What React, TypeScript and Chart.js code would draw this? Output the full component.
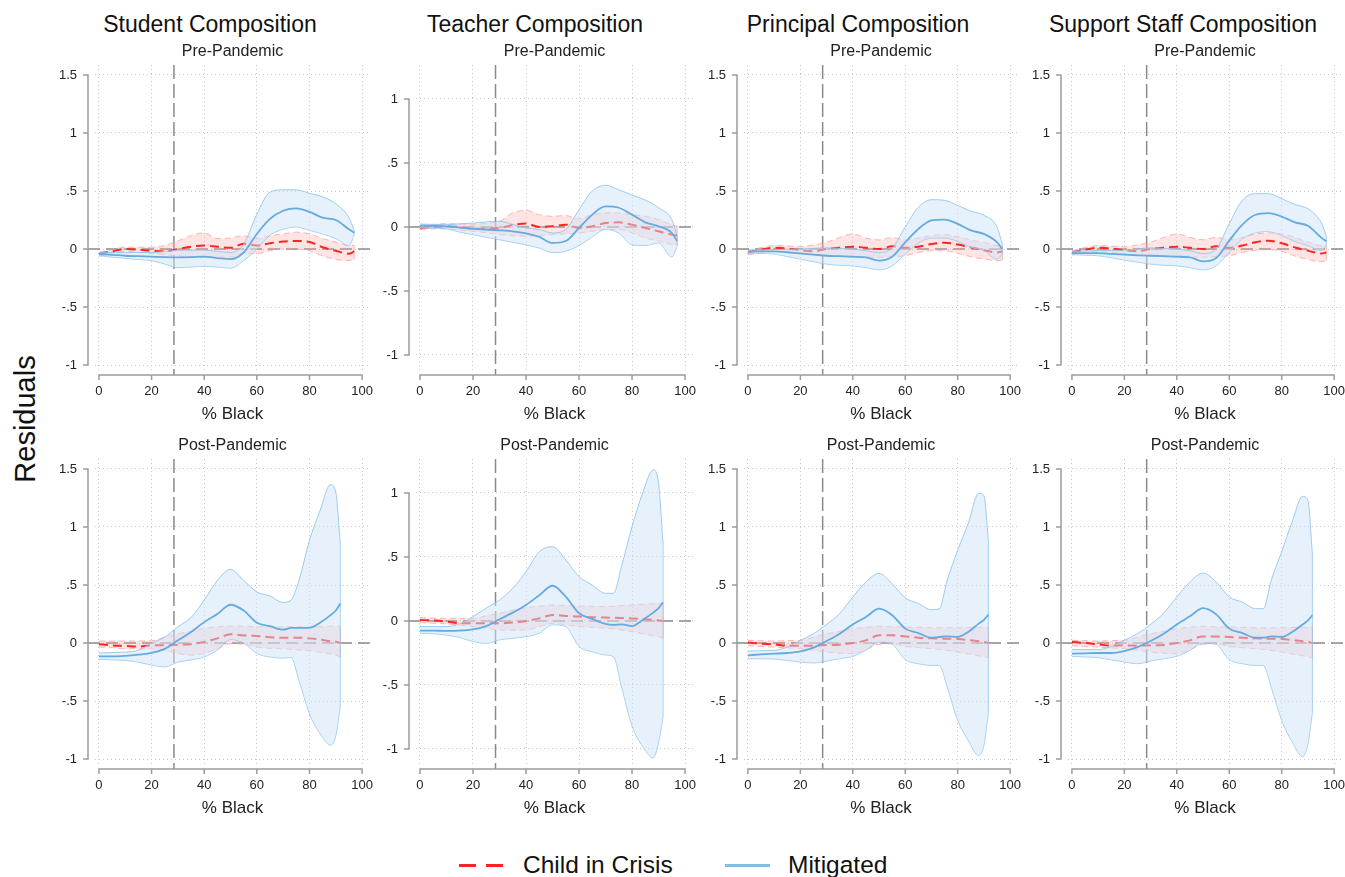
import React, { useEffect, useRef } from "react";
import { Chart, registerables } from "chart.js";

Chart.register(...registerables);

const FONT = '"Liberation Sans", Arial, Helvetica, sans-serif';
Chart.defaults.font.family = FONT;
Chart.defaults.color = "#222";

// ---------- categories / ticks ----------
const COLUMN_TITLES = ["Student Composition", "Teacher Composition", "Principal Composition", "Support Staff Composition"];
const ROW_TITLES = ["Pre-Pandemic", "Post-Pandemic"];
const X_TITLE = "% Black";
const Y_TITLE = "Residuals";
const SERIES_LABELS = ["Child in Crisis", "Mitigated"];
const X_TICKS = [0, 20, 40, 60, 80, 100];
const Y_TICKS_WIDE = [-1, -0.5, 0, 0.5, 1, 1.5];
const Y_TICKS_NARROW = [-1, -0.5, 0, 0.5, 1];
const CUTOFF = 28.5;

const PRE_X = [0, 5, 10, 15, 20, 25, 30, 35, 40, 45, 50, 55, 60, 65, 70, 75, 80, 85, 90, 95, 97];
const POST_X = [0, 5, 10, 15, 20, 25, 30, 35, 40, 45, 50, 55, 60, 65, 70, 73, 76, 80, 84, 88, 90, 91.7];

// ---------- Student ----------
const STUDENT_PRE_MIT = [-0.043, -0.05, -0.058, -0.062, -0.066, -0.07, -0.072, -0.07, -0.066, -0.078, -0.087, -0.03, 0.13, 0.26, 0.33, 0.35, 0.32, 0.27, 0.25, 0.17, 0.14];
const STUDENT_PRE_MIT_HI = [-0.03, -0.03, -0.03, -0.03, -0.03, -0.02, -0.01, -0.01, -0.01, -0.02, -0.03, 0.04, 0.3, 0.49, 0.51, 0.51, 0.48, 0.45, 0.39, 0.27, 0.16];
const STUDENT_PRE_MIT_LO = [-0.058, -0.07, -0.08, -0.09, -0.1, -0.13, -0.16, -0.155, -0.15, -0.155, -0.165, -0.1, 0, 0.12, 0.17, 0.19, 0.16, 0.13, 0.09, 0.03, 0.12];
const STUDENT_PRE_CRI = [-0.04, -0.02, 0, -0.005, -0.015, -0.02, 0, 0.02, 0.03, 0.02, 0.01, 0.045, 0.03, 0.05, 0.065, 0.07, 0.06, 0.015, -0.015, -0.04, -0.02];
const STUDENT_PRE_CRI_HI = [-0.03, -0.005, 0.015, 0.015, 0.015, 0.03, 0.07, 0.115, 0.14, 0.09, 0.095, 0.115, 0.09, 0.115, 0.13, 0.145, 0.13, 0.09, 0.06, 0.03, 0.03];
const STUDENT_PRE_CRI_LO = [-0.06, -0.04, -0.02, -0.03, -0.04, -0.05, -0.06, -0.065, -0.07, -0.07, -0.07, -0.04, -0.04, -0.015, 0, 0, -0.015, -0.06, -0.09, -0.1, -0.09];

const STUDENT_POST_MIT = [-0.115, -0.115, -0.11, -0.1, -0.086, -0.05, 0.023, 0.095, 0.18, 0.25, 0.33, 0.28, 0.175, 0.145, 0.115, 0.13, 0.13, 0.13, 0.175, 0.24, 0.28, 0.34];
const STUDENT_POST_MIT_HI = [-0.086, -0.082, -0.078, -0.063, 0, 0.05, 0.14, 0.22, 0.37, 0.54, 0.635, 0.54, 0.44, 0.405, 0.35, 0.37, 0.54, 0.885, 1.14, 1.365, 1.3, 0.86];
const STUDENT_POST_MIT_LO = [-0.14, -0.145, -0.15, -0.165, -0.19, -0.205, -0.165, -0.145, -0.12, -0.06, 0.03, 0, -0.09, -0.12, -0.13, -0.125, -0.32, -0.61, -0.78, -0.88, -0.8, -0.55];
const STUDENT_POST_CRI = [-0.01, -0.02, -0.025, -0.03, -0.02, -0.02, -0.015, -0.01, 0.01, 0.04, 0.075, 0.065, 0.06, 0.05, 0.045, 0.045, 0.045, 0.04, 0.03, 0.015, 0.01, 0];
const STUDENT_POST_CRI_HI = [0.017, 0.017, 0.017, 0.018, 0.02, 0.05, 0.08, 0.1, 0.125, 0.14, 0.145, 0.145, 0.14, 0.14, 0.14, 0.14, 0.14, 0.14, 0.14, 0.145, 0.145, 0.145];
const STUDENT_POST_CRI_LO = [-0.035, -0.04, -0.05, -0.05, -0.05, -0.065, -0.09, -0.105, -0.09, -0.05, -0.005, -0.01, -0.035, -0.045, -0.05, -0.055, -0.06, -0.065, -0.08, -0.095, -0.105, -0.12];

// ---------- Teacher ----------
const TEACHER_PRE_MIT = [0.01, 0.008, 0.005, -0.005, -0.015, -0.02, -0.026, -0.034, -0.05, -0.078, -0.125, -0.11, -0.008, 0.096, 0.16, 0.15, 0.096, 0.036, 0.005, -0.047, -0.11];
const TEACHER_PRE_MIT_HI = [0.023, 0.02, 0.018, 0.025, 0.03, 0.04, 0.044, 0.02, -0.008, -0.02, -0.047, -0.02, 0.135, 0.28, 0.325, 0.29, 0.25, 0.21, 0.15, 0.057, -0.07];
const TEACHER_PRE_MIT_LO = [-0.008, -0.01, -0.015, -0.04, -0.06, -0.08, -0.1, -0.12, -0.14, -0.165, -0.2, -0.19, -0.145, -0.078, -0.02, -0.047, -0.14, -0.145, -0.125, -0.235, -0.15];
const TEACHER_PRE_CRI = [-0.008, 0, 0.005, 0, -0.015, -0.012, -0.008, 0.016, 0.026, 0, 0.005, 0.018, -0.008, 0.005, 0.03, 0.036, 0.018, -0.008, -0.034, -0.06, -0.068];
const TEACHER_PRE_CRI_HI = [0.01, 0.02, 0.026, 0.022, 0.018, 0.03, 0.044, 0.11, 0.13, 0.096, 0.083, 0.089, 0.063, 0.096, 0.11, 0.11, 0.096, 0.083, 0.057, 0.018, 0.005];
const TEACHER_PRE_CRI_LO = [-0.02, -0.015, -0.015, -0.025, -0.034, -0.045, -0.06, -0.068, -0.073, -0.068, -0.06, -0.055, -0.047, -0.034, -0.02, -0.02, -0.047, -0.086, -0.11, -0.138, -0.145];

const TEACHER_POST_MIT = [-0.075, -0.075, -0.078, -0.075, -0.065, -0.04, 0.013, 0.065, 0.125, 0.2, 0.275, 0.19, 0.06, 0.016, -0.023, -0.03, -0.026, -0.04, 0.008, 0.065, 0.1, 0.146];
const TEACHER_POST_MIT_HI = [-0.044, -0.044, -0.044, -0.023, 0.034, 0.1, 0.164, 0.255, 0.385, 0.54, 0.58, 0.477, 0.346, 0.28, 0.216, 0.216, 0.424, 0.737, 1, 1.18, 1.075, 0.607];
const TEACHER_POST_MIT_LO = [-0.096, -0.1, -0.11, -0.13, -0.16, -0.175, -0.148, -0.135, -0.122, -0.096, -0.03, -0.044, -0.2, -0.24, -0.265, -0.28, -0.51, -0.82, -0.98, -1.07, -0.95, -0.75];
const TEACHER_POST_CRI = [0.008, 0.003, -0.005, -0.018, -0.018, -0.018, -0.018, -0.013, 0, 0.02, 0.047, 0.039, 0.034, 0.029, 0.026, 0.025, 0.023, 0.02, 0.015, 0.008, 0.003, 0];
const TEACHER_POST_CRI_HI = [0.026, 0.022, 0.02, 0.02, 0.02, 0.04, 0.06, 0.085, 0.104, 0.115, 0.125, 0.12, 0.117, 0.114, 0.112, 0.115, 0.12, 0.125, 0.13, 0.135, 0.137, 0.138];
const TEACHER_POST_CRI_LO = [-0.013, -0.018, -0.023, -0.033, -0.044, -0.057, -0.07, -0.072, -0.07, -0.044, -0.018, -0.03, -0.044, -0.05, -0.057, -0.062, -0.07, -0.083, -0.1, -0.115, -0.122, -0.135];

// ---------- Principal ----------
const PRINCIPAL_PRE_MIT = [-0.02, -0.02, -0.02, -0.028, -0.038, -0.048, -0.058, -0.062, -0.066, -0.072, -0.1, -0.066, 0.058, 0.173, 0.246, 0.254, 0.217, 0.16, 0.13, 0.058, 0];
const PRINCIPAL_PRE_MIT_HI = [-0.01, -0.008, -0.005, -0.002, 0, 0.005, 0.01, 0.005, 0, -0.015, -0.03, 0.01, 0.19, 0.36, 0.425, 0.42, 0.375, 0.327, 0.29, 0.19, 0.043];
const PRINCIPAL_PRE_MIT_LO = [-0.035, -0.038, -0.043, -0.065, -0.087, -0.11, -0.13, -0.14, -0.145, -0.16, -0.18, -0.145, -0.043, 0.05, 0.095, 0.095, 0.066, 0.014, -0.014, -0.087, -0.043];
const PRINCIPAL_PRE_CRI = [-0.03, -0.005, 0.01, 0.005, -0.01, -0.02, 0, 0.012, 0.02, 0.01, 0, 0.023, 0.01, 0.02, 0.043, 0.055, 0.038, 0.014, -0.01, -0.03, -0.02];
const PRINCIPAL_PRE_CRI_HI = [-0.015, 0.012, 0.03, 0.028, 0.02, 0.035, 0.058, 0.1, 0.13, 0.095, 0.078, 0.1, 0.078, 0.095, 0.116, 0.124, 0.107, 0.078, 0.058, 0.03, 0.03];
const PRINCIPAL_PRE_CRI_LO = [-0.05, -0.035, -0.02, -0.03, -0.043, -0.05, -0.058, -0.065, -0.072, -0.072, -0.072, -0.065, -0.058, -0.03, -0.015, -0.015, -0.038, -0.066, -0.087, -0.1, -0.095];

const PRINCIPAL_POST_MIT = [-0.106, -0.098, -0.092, -0.086, -0.072, -0.04, 0.017, 0.08, 0.16, 0.224, 0.296, 0.24, 0.124, 0.086, 0.046, 0.052, 0.057, 0.052, 0.095, 0.167, 0.2, 0.244];
const PRINCIPAL_POST_MIT_HI = [-0.07, -0.066, -0.063, -0.035, 0.023, 0.08, 0.16, 0.253, 0.397, 0.526, 0.6, 0.51, 0.39, 0.34, 0.287, 0.296, 0.54, 0.8, 1.03, 1.29, 1.27, 0.885];
const PRINCIPAL_POST_MIT_LO = [-0.135, -0.136, -0.138, -0.15, -0.164, -0.172, -0.155, -0.135, -0.115, -0.063, 0.009, -0.011, -0.144, -0.178, -0.193, -0.193, -0.38, -0.667, -0.84, -0.97, -0.88, -0.6];
const PRINCIPAL_POST_CRI = [0.005, -0.006, -0.011, -0.023, -0.023, -0.023, -0.017, -0.014, 0, 0.023, 0.066, 0.066, 0.057, 0.046, 0.04, 0.038, 0.037, 0.034, 0.026, 0.015, 0.009, 0];
const PRINCIPAL_POST_CRI_HI = [0.023, 0.02, 0.017, 0.02, 0.023, 0.05, 0.08, 0.1, 0.124, 0.135, 0.144, 0.14, 0.138, 0.135, 0.132, 0.132, 0.132, 0.132, 0.134, 0.136, 0.137, 0.138];
const PRINCIPAL_POST_CRI_LO = [-0.023, -0.03, -0.035, -0.042, -0.049, -0.063, -0.078, -0.088, -0.092, -0.057, -0.011, -0.006, -0.029, -0.04, -0.049, -0.055, -0.065, -0.078, -0.095, -0.11, -0.12, -0.126];

// ---------- Support staff ----------
const SUPPORT_PRE_MIT = [-0.035, -0.035, -0.035, -0.042, -0.049, -0.054, -0.058, -0.062, -0.066, -0.072, -0.107, -0.078, 0.072, 0.21, 0.295, 0.31, 0.28, 0.23, 0.2, 0.1, 0.066];
const SUPPORT_PRE_MIT_HI = [-0.02, -0.016, -0.013, -0.012, -0.01, 0, 0.01, 0.005, 0, -0.015, -0.038, 0, 0.217, 0.42, 0.477, 0.477, 0.434, 0.384, 0.347, 0.23, 0.116];
const SUPPORT_PRE_MIT_LO = [-0.049, -0.053, -0.058, -0.075, -0.095, -0.113, -0.13, -0.14, -0.145, -0.16, -0.18, -0.145, -0.03, 0.087, 0.139, 0.15, 0.116, 0.066, 0.03, -0.014, 0.03];
const SUPPORT_PRE_CRI = [-0.03, -0.005, 0.01, 0.005, -0.01, -0.02, 0, 0.012, 0.02, 0.01, 0, 0.023, 0.01, 0.03, 0.058, 0.072, 0.05, 0.014, -0.014, -0.038, -0.03];
const SUPPORT_PRE_CRI_HI = [-0.015, 0.012, 0.03, 0.026, 0.02, 0.035, 0.058, 0.1, 0.13, 0.1, 0.08, 0.1, 0.08, 0.1, 0.13, 0.14, 0.13, 0.1, 0.06, 0.03, 0.03];
const SUPPORT_PRE_CRI_LO = [-0.05, -0.035, -0.02, -0.03, -0.043, -0.05, -0.058, -0.065, -0.072, -0.072, -0.072, -0.065, -0.058, -0.03, -0.01, -0.005, -0.02, -0.06, -0.09, -0.11, -0.1];

const SUPPORT_POST_MIT = [-0.092, -0.089, -0.086, -0.086, -0.069, -0.035, 0.017, 0.08, 0.16, 0.23, 0.3, 0.247, 0.124, 0.086, 0.046, 0.046, 0.057, 0.052, 0.095, 0.16, 0.195, 0.24];
const SUPPORT_POST_MIT_HI = [-0.057, -0.057, -0.057, -0.03, 0.023, 0.08, 0.16, 0.258, 0.397, 0.526, 0.603, 0.526, 0.397, 0.353, 0.296, 0.296, 0.54, 0.787, 1.045, 1.264, 1.23, 0.77];
const SUPPORT_POST_MIT_LO = [-0.115, -0.12, -0.126, -0.145, -0.164, -0.178, -0.155, -0.135, -0.115, -0.063, 0, -0.011, -0.144, -0.178, -0.193, -0.193, -0.38, -0.667, -0.853, -0.98, -0.87, -0.6];
const SUPPORT_POST_CRI = [0.009, 0, -0.011, -0.023, -0.02, -0.023, -0.02, -0.017, 0, 0.023, 0.057, 0.057, 0.052, 0.046, 0.04, 0.038, 0.037, 0.034, 0.026, 0.015, 0.009, 0];
const SUPPORT_POST_CRI_HI = [0.023, 0.02, 0.017, 0.02, 0.023, 0.05, 0.08, 0.1, 0.124, 0.135, 0.144, 0.14, 0.138, 0.135, 0.132, 0.132, 0.132, 0.132, 0.134, 0.136, 0.137, 0.138];
const SUPPORT_POST_CRI_LO = [-0.023, -0.03, -0.035, -0.042, -0.049, -0.063, -0.078, -0.088, -0.092, -0.057, -0.011, -0.006, -0.029, -0.04, -0.049, -0.055, -0.065, -0.078, -0.095, -0.11, -0.12, -0.126];

// ---------- styles / layout ----------
const BLUE_LINE = "#66abe0";
const BLUE_EDGE = "rgba(135,192,236,0.8)";
const BLUE_FILL = "rgba(205,228,248,0.5)";
const RED_LINE = "#ff2424";
const RED_EDGE = "rgba(255,150,150,0.7)";
const RED_FILL = "rgba(255,165,165,0.3)";
const LEGEND_BLUE = "#80bde8";
const GRID = "#c9c9c9";
const AXIS = "#9c9c9c";
const REF = "#8a8a8a";

const COL_LEFT = [95, 416, 744, 1068];
const COL_WIDTH = [275, 277, 274, 274];
const ROW_TOP = [65, 459];
const AREA_H = 307;
const TITLE_CX = [210, 535, 858, 1183];

type PanelDef = {
  col: number; row: number; xs: number[]; yTicks: number[];
  mit: number[]; mitHi: number[]; mitLo: number[];
  cri: number[]; criHi: number[]; criLo: number[];
};

const PANELS: PanelDef[] = [
  { col: 0, row: 0, xs: PRE_X, yTicks: Y_TICKS_WIDE, mit: STUDENT_PRE_MIT, mitHi: STUDENT_PRE_MIT_HI, mitLo: STUDENT_PRE_MIT_LO, cri: STUDENT_PRE_CRI, criHi: STUDENT_PRE_CRI_HI, criLo: STUDENT_PRE_CRI_LO },
  { col: 1, row: 0, xs: PRE_X, yTicks: Y_TICKS_NARROW, mit: TEACHER_PRE_MIT, mitHi: TEACHER_PRE_MIT_HI, mitLo: TEACHER_PRE_MIT_LO, cri: TEACHER_PRE_CRI, criHi: TEACHER_PRE_CRI_HI, criLo: TEACHER_PRE_CRI_LO },
  { col: 2, row: 0, xs: PRE_X, yTicks: Y_TICKS_WIDE, mit: PRINCIPAL_PRE_MIT, mitHi: PRINCIPAL_PRE_MIT_HI, mitLo: PRINCIPAL_PRE_MIT_LO, cri: PRINCIPAL_PRE_CRI, criHi: PRINCIPAL_PRE_CRI_HI, criLo: PRINCIPAL_PRE_CRI_LO },
  { col: 3, row: 0, xs: PRE_X, yTicks: Y_TICKS_WIDE, mit: SUPPORT_PRE_MIT, mitHi: SUPPORT_PRE_MIT_HI, mitLo: SUPPORT_PRE_MIT_LO, cri: SUPPORT_PRE_CRI, criHi: SUPPORT_PRE_CRI_HI, criLo: SUPPORT_PRE_CRI_LO },
  { col: 0, row: 1, xs: POST_X, yTicks: Y_TICKS_WIDE, mit: STUDENT_POST_MIT, mitHi: STUDENT_POST_MIT_HI, mitLo: STUDENT_POST_MIT_LO, cri: STUDENT_POST_CRI, criHi: STUDENT_POST_CRI_HI, criLo: STUDENT_POST_CRI_LO },
  { col: 1, row: 1, xs: POST_X, yTicks: Y_TICKS_NARROW, mit: TEACHER_POST_MIT, mitHi: TEACHER_POST_MIT_HI, mitLo: TEACHER_POST_MIT_LO, cri: TEACHER_POST_CRI, criHi: TEACHER_POST_CRI_HI, criLo: TEACHER_POST_CRI_LO },
  { col: 2, row: 1, xs: POST_X, yTicks: Y_TICKS_WIDE, mit: PRINCIPAL_POST_MIT, mitHi: PRINCIPAL_POST_MIT_HI, mitLo: PRINCIPAL_POST_MIT_LO, cri: PRINCIPAL_POST_CRI, criHi: PRINCIPAL_POST_CRI_HI, criLo: PRINCIPAL_POST_CRI_LO },
  { col: 3, row: 1, xs: POST_X, yTicks: Y_TICKS_WIDE, mit: SUPPORT_POST_MIT, mitHi: SUPPORT_POST_MIT_HI, mitLo: SUPPORT_POST_MIT_LO, cri: SUPPORT_POST_CRI, criHi: SUPPORT_POST_CRI_HI, criLo: SUPPORT_POST_CRI_LO },
];

const fmtTick = (v: number) => {
  if (v === 0) return "0";
  return String(v).replace(/^(-?)0\./, "$1.");
};

const referenceLines = {
  id: "referenceLines",
  beforeDatasetsDraw(chart: any) {
    const { ctx, chartArea: a, scales } = chart;
    const x = scales.x, y = scales.y;
    ctx.save();
    ctx.strokeStyle = REF;
    ctx.lineWidth = 1.5;
    ctx.setLineDash([12, 6]);
    const y0 = y.getPixelForValue(0);
    ctx.beginPath();
    ctx.moveTo(a.left - 7, y0);
    ctx.lineTo(a.right + 2, y0);
    ctx.stroke();
    ctx.setLineDash([14, 5]);
    const xc = x.getPixelForValue(CUTOFF);
    ctx.beginPath();
    ctx.moveTo(xc, a.top);
    ctx.lineTo(xc, a.bottom + 3);
    ctx.stroke();
    ctx.restore();
  },
};

// closes each confidence band with a thin edge between its last upper and lower points
const bandClosure = {
  id: "bandClosure",
  afterDatasetDraw(chart: any, args: any) {
    const ds = chart.data.datasets[args.index];
    if (!ds || !ds.bandLower) return;
    const lo = args.meta.data;
    const hi = chart.getDatasetMeta(args.index - 1).data;
    if (!lo.length || !hi.length) return;
    const pl = lo[lo.length - 1], ph = hi[hi.length - 1];
    const ctx = chart.ctx;
    ctx.save();
    ctx.strokeStyle = ds.borderColor;
    ctx.lineWidth = 1;
    ctx.setLineDash([]);
    ctx.beginPath();
    ctx.moveTo(pl.x, pl.y);
    ctx.lineTo(ph.x, ph.y);
    ctx.stroke();
    ctx.restore();
  },
};

const stataAxes = {
  id: "stataAxes",
  afterDraw(chart: any) {
    const { ctx, chartArea: a, scales } = chart;
    const x = scales.x, y = scales.y;
    const ax = a.left - 7;
    const ay = a.bottom + 3;
    const yt = y.ticks.map((t: any) => t.value);
    const xt = x.ticks.map((t: any) => t.value);
    ctx.save();
    ctx.strokeStyle = AXIS;
    ctx.lineWidth = 1.5;
    ctx.setLineDash([]);
    ctx.beginPath();
    ctx.moveTo(ax, y.getPixelForValue(yt[0]) + 0.75);
    ctx.lineTo(ax, y.getPixelForValue(yt[yt.length - 1]) - 0.75);
    yt.forEach((v: number) => {
      const py = y.getPixelForValue(v);
      ctx.moveTo(ax - 5, py);
      ctx.lineTo(ax, py);
    });
    ctx.moveTo(x.getPixelForValue(xt[0]) - 0.75, ay);
    ctx.lineTo(x.getPixelForValue(xt[xt.length - 1]) + 0.75, ay);
    xt.forEach((v: number) => {
      const px = x.getPixelForValue(v);
      ctx.moveTo(px, ay);
      ctx.lineTo(px, ay + 5);
    });
    ctx.stroke();
    ctx.restore();
  },
};

function Panel({ p }: { p: PanelDef }) {
  const ref = useRef<HTMLCanvasElement>(null);
  const left = COL_LEFT[p.col] - 60;
  const top = ROW_TOP[p.row] - 30;
  const width = COL_WIDTH[p.col] + 80;
  const height = 30 + AREA_H + 56 + 4;

  useEffect(() => {
    const wide = p.yTicks.length === 6;
    const pts = (ys: number[]) => ys.map((v, i) => ({ x: p.xs[i], y: v }));
    const line = { pointRadius: 0, pointHoverRadius: 0, cubicInterpolationMode: "monotone" as const };
    const chart = new Chart(ref.current as HTMLCanvasElement, {
      type: "line",
      data: {
        datasets: [
          { ...line, label: SERIES_LABELS[1], data: pts(p.mit), borderColor: BLUE_LINE, borderWidth: 1.8, fill: false },
          { ...line, label: SERIES_LABELS[1] + " upper", data: pts(p.mitHi), borderColor: BLUE_EDGE, borderWidth: 1, fill: "+1", backgroundColor: BLUE_FILL },
          { ...line, label: SERIES_LABELS[1] + " lower", bandLower: true, data: pts(p.mitLo), borderColor: BLUE_EDGE, borderWidth: 1, fill: false },
          { ...line, label: SERIES_LABELS[0], data: pts(p.cri), borderColor: RED_LINE, borderWidth: 2, borderDash: [9, 5], fill: false },
          { ...line, label: SERIES_LABELS[0] + " upper", data: pts(p.criHi), borderColor: RED_EDGE, borderWidth: 1, borderDash: [6, 4], fill: "+1", backgroundColor: RED_FILL },
          { ...line, label: SERIES_LABELS[0] + " lower", bandLower: true, data: pts(p.criLo), borderColor: RED_EDGE, borderWidth: 1, borderDash: [6, 4], fill: false },
        ],
      },
      options: {
        animation: false,
        responsive: false,
        maintainAspectRatio: false,
        events: [],
        layout: { padding: { left: 0, top: 0, right: 20, bottom: 4 } },
        plugins: {
          legend: { display: false },
          tooltip: { enabled: false },
          title: {
            display: true,
            text: ROW_TITLES[p.row],
            fullSize: false,
            color: "#222",
            font: { size: 16, family: FONT, weight: "normal" },
            padding: { top: 6.7, bottom: 4.1 },
          },
        },
        scales: {
          x: {
            type: "linear",
            min: -1.5,
            max: 103,
            afterBuildTicks: (s: any) => { s.ticks = X_TICKS.map((v) => ({ value: v })); },
            afterFit: (s: any) => { s.height = 56; },
            grid: { color: GRID, lineWidth: 1, drawTicks: false },
            border: { display: false, dash: [1, 3] },
            ticks: { padding: 12, font: { size: 13 }, color: "#222", maxRotation: 0, autoSkip: false },
            title: { display: true, text: X_TITLE, color: "#222", font: { size: 17 }, padding: { top: 0, bottom: 3 } },
          },
          y: {
            type: "linear",
            min: wide ? -1.06 : -1.133,
            max: wide ? 1.586 : 1.265,
            afterBuildTicks: (s: any) => { s.ticks = p.yTicks.map((v) => ({ value: v })); },
            afterFit: (s: any) => { s.width = 60; },
            grid: { color: GRID, lineWidth: 1, drawTicks: false },
            border: { display: false, dash: [1, 3] },
            ticks: { padding: 18, font: { size: 13 }, color: "#222", autoSkip: false, callback: (v: any) => fmtTick(Number(v)) },
          },
        },
      },
      plugins: [referenceLines, bandClosure, stataAxes],
    } as any);
    return () => chart.destroy();
  }, []);

  return (
    <canvas
      ref={ref}
      width={width}
      height={height}
      style={{ position: "absolute", left, top, width, height }}
    />
  );
}

export default function App() {
  return (
    <div
      style={{
        position: "fixed", left: 0, top: 0, width: 1345, height: 877,
        overflow: "hidden", background: "#fff", fontFamily: FONT, color: "#111",
      }}
    >
      {COLUMN_TITLES.map((t, i) => (
        <div
          key={t}
          style={{
            position: "absolute", left: TITLE_CX[i], top: 24, transform: "translate(-50%, -50%)",
            fontSize: 23, lineHeight: 1, whiteSpace: "nowrap",
          }}
        >
          {t}
        </div>
      ))}
      <div
        style={{
          position: "absolute", left: 25, top: 419, transform: "translate(-50%, -50%) rotate(-90deg)",
          fontSize: 29, lineHeight: 1, whiteSpace: "nowrap",
        }}
      >
        {Y_TITLE}
      </div>
      {PANELS.map((p, i) => (
        <Panel key={i} p={p} />
      ))}
      <div style={{ position: "absolute", left: 459, top: 863.5, width: 17, height: 3, background: RED_LINE }} />
      <div style={{ position: "absolute", left: 486, top: 863.5, width: 17, height: 3, background: RED_LINE }} />
      <div
        style={{
          position: "absolute", left: 523, top: 865, transform: "translateY(-50%)",
          fontSize: 24.5, lineHeight: 1, whiteSpace: "nowrap",
        }}
      >
        {SERIES_LABELS[0]}
      </div>
      <div style={{ position: "absolute", left: 725, top: 863.5, width: 45, height: 3, background: LEGEND_BLUE }} />
      <div
        style={{
          position: "absolute", left: 788, top: 865, transform: "translateY(-50%)",
          fontSize: 24.5, lineHeight: 1, whiteSpace: "nowrap",
        }}
      >
        {SERIES_LABELS[1]}
      </div>
    </div>
  );
}
